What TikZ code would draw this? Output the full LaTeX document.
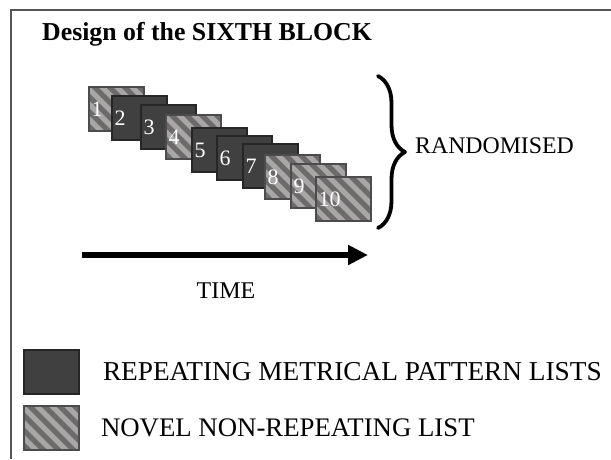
\documentclass[tikz,border=0pt]{standalone}
\usepackage{fontspec}
\setmainfont{Liberation Serif}
\usetikzlibrary{arrows.meta,decorations.pathreplacing,positioning}

\definecolor{darklist}{HTML}{404040}
\definecolor{stripelight}{HTML}{A9A6A6}
\definecolor{stripedark}{HTML}{6C6A6A}
\definecolor{framegray}{HTML}{555555}

\begin{document}
\begin{tikzpicture}[
            x = 1pt, y = -1pt, % one unit = one pixel, y downwards
            card/.style = {rectangle, minimum width=55pt, minimum height=44pt,
                inner xsep=2.5pt, inner ysep=0pt, text width=50pt, align=left,
                text=white, font=\fontsize{22}{22}\selectfont, line width=1.6pt},
            repeating/.style = {card, fill=darklist, draw=black!85},
            novel/.style = {card, fill=stripelight, draw=black!70,
                path picture={
                  \foreach \k in {-6,...,6}
                    \draw[stripedark, line width=5pt]
                      ([xshift=\k*15pt]path picture bounding box.center)
                      ++(-40pt,40pt) -- ++(80pt,-80pt);
                }},
            legendtext/.style = {inner sep=0pt, font=\fontsize{27.3}{27.3}\selectfont},
            node distance = 23pt
        ]
	\useasboundingbox (0,0) rectangle (611,459);

	% frame, only top and left edges show
	\draw[framegray, line width=1.5pt] (11,459) -- (11,10) -- (611,10);

	\node[anchor=base west, inner sep=0pt, font=\fontsize{25.8}{25.8}\selectfont\bfseries]
		(title) at (42,40) {Design of the SIXTH BLOCK};

	% the ten lists in order
	\node[novel]     (c1)  at (116.5,109) {1};
	\node[repeating] (c2)  at (139.5,118) {2};
	\node[repeating] (c3)  at (168.5,127) {3};
	\node[novel]     (c4)  at (193.5,137) {4};
	\node[repeating] (c5)  at (219.5,150) {5};
	\node[repeating] (c6)  at (244.5,158) {6};
	\node[repeating] (c7)  at (270.5,166) {7};
	\node[novel]     (c8)  at (292.5,177) {8};
	\node[novel]     (c9)  at (318.5,186) {9};
	\node[novel]     (c10) at (343.5,199) {10};

	% brace
	\coordinate (btop) at (378,76);
	\coordinate (bbot) at (378,228);
	\draw[decorate, decoration={brace, amplitude=27pt}, line width=3.8pt, line cap=round, line join=round]
		(btop) -- (bbot);
	\node[anchor=base west, inner sep=0pt, font=\fontsize{23.8}{23.8}\selectfont]
		(rand) at (415,153) {RANDOMISED};

	% time axis
	\coordinate (tstart) at (82,255);
	\coordinate (tend) at (368,255);
	\draw[-{Triangle[length=20pt,width=19pt]}, line width=6.5pt] (tstart) -- (tend);
	\node[anchor=base, inner sep=0pt, font=\fontsize{24}{24}\selectfont]
		(time) at (226,298) {TIME};

	% legend
	\node[repeating] (keyrep) at (51.5,372) {};
	\node[novel]     (keynov) at (51.5,428) {};
	\node[legendtext, right=of keyrep] (reptext) {REPEATING METRICAL PATTERN LISTS};
	\node[legendtext, right=21pt of keynov, font=\fontsize{26.8}{26.8}\selectfont] (novtext) {NOVEL NON-REPEATING LIST};

\end{tikzpicture}
\end{document}
